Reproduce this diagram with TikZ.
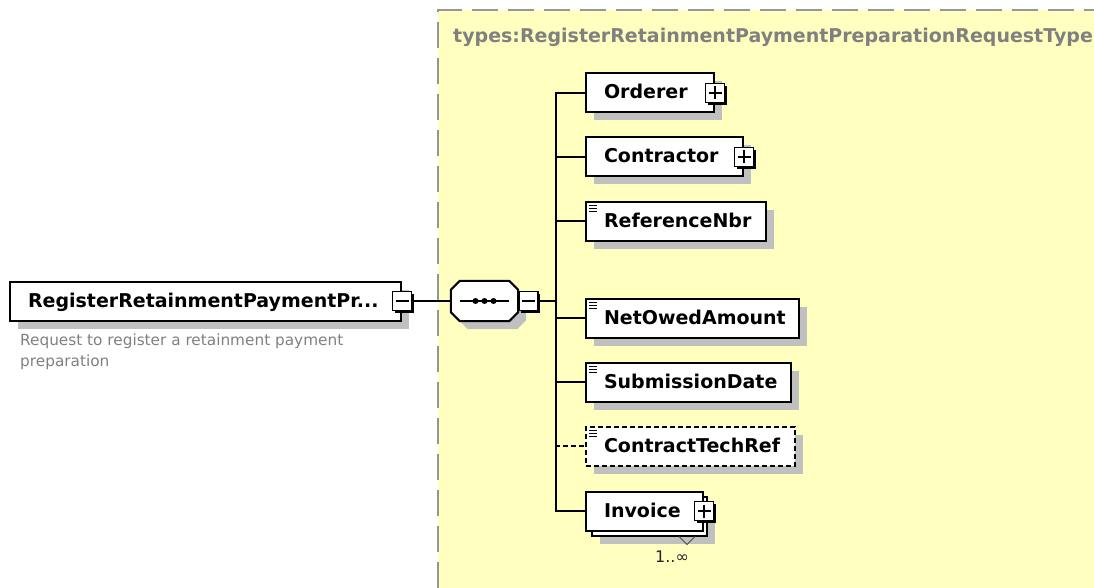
\documentclass[tikz,border=0pt]{standalone}
\usepackage{fontspec}
\setsansfont{DejaVu Sans}
\usepackage{tikz}
\usetikzlibrary{positioning,shadows}

\definecolor{typebg}{RGB}{255,255,192}
\definecolor{typeline}{RGB}{150,150,150}
\definecolor{typetext}{RGB}{128,128,128}
\definecolor{shade}{RGB}{192,192,192}

\begin{document}
\begin{tikzpicture}[x=1pt,y=-1pt]
\tikzstyle{flat}=[rectangle, draw=black, line width=2pt, fill=white, anchor=west, inner xsep=0pt, inner ysep=0pt, minimum height=39pt, text height=14pt, text depth=2pt, align=left, font=\sffamily\bfseries\fontsize{19}{22}\selectfont, execute at begin node={\hyphenpenalty=10000\hspace*{18pt}}]
\tikzstyle{elem}=[flat, drop shadow={shadow xshift=8pt, shadow yshift=-8pt, fill=shade, opacity=1}]
\tikzstyle{simple}=[elem, path picture={\foreach \k in {4,7,10} \draw[solid, line width=1.1pt] ([xshift=3pt, yshift=-\k pt]path picture bounding box.north west) -- ++(8pt,0pt);}]
\tikzstyle{optional}=[dash pattern=on 5pt off 3pt]
\tikzstyle{expander}=[rectangle, draw=black, line width=1.5pt, fill=white, minimum size=19pt, inner sep=0pt, drop shadow={shadow xshift=2.5pt, shadow yshift=-2.5pt, fill=black, opacity=1}]
\tikzstyle{plusbox}=[expander, path picture={\draw[line width=1.5pt] ([xshift=3pt]path picture bounding box.west) -- ([xshift=-3pt]path picture bounding box.east); \draw[line width=1.5pt] ([yshift=-3pt]path picture bounding box.north) -- ([yshift=3pt]path picture bounding box.south);}]
\tikzstyle{minusbox}=[expander, path picture={\draw[line width=1.5pt] ([xshift=3pt]path picture bounding box.west) -- ([xshift=-3pt]path picture bounding box.east);}]
\tikzstyle{connect}=[draw, line width=2pt]
\tikzstyle{elbow}=[to path={|- (\tikztotarget)}]

\useasboundingbox (0,0) rectangle (1094,588);

% complex type area
\fill[typebg] (438,10) rectangle (1094,588);
\draw[typeline, line width=1.6pt, dash pattern=on 26pt off 10pt] (438,588) -- (438,10) -- (1094,10);
\node[font=\sffamily\bfseries\fontsize{19}{22}\selectfont, text=typetext, anchor=base west, inner sep=0pt] (type_name) at (453,43) {types:RegisterRetainmentPaymentPreparationRequestType};

% root element
\node[elem, text width=391pt] (root) at (9,301) {RegisterRetainmentPaymentPr...};
\node[minusbox] (root_exp) at (root.east) {};
\node[font=\sffamily\fontsize{15.3}{21}\selectfont, text=typetext, anchor=north west, align=left, inner sep=0pt] (root_doc) at (20,334) {Request to register a retainment payment\\preparation};

% sequence
\node[rectangle, minimum width=67pt, minimum height=40pt, inner sep=0pt] (seq) at (484.5,301) {};
\draw[line width=2pt, fill=white, drop shadow={shadow xshift=8pt, shadow yshift=-8pt, fill=shade, opacity=1}]
  ([xshift=9pt]seq.north west) -- ([xshift=-9pt]seq.north east) -- ([yshift=-9pt]seq.north east) -- ([yshift=9pt]seq.south east)
  -- ([xshift=-9pt]seq.south east) -- ([xshift=9pt]seq.south west) -- ([yshift=9pt]seq.south west) -- ([yshift=-9pt]seq.north west) -- cycle;
\draw[line width=1.5pt] ([xshift=9pt]seq.west) -- ([xshift=-9pt]seq.east);
\foreach \d in {-9,0,9}
  \fill ([xshift=\d pt]seq.center) circle (3pt);
\node[minusbox, anchor=west] (seq_exp) at (seq.east) {};
\coordinate (bus) at (556,301);

% children
\node[elem, text width=128pt] (orderer) at (585,93) {Orderer};
\node[plusbox] (orderer_exp) at (orderer.east) {};
\node[elem, text width=157pt] (contractor) at (585,157) {Contractor};
\node[plusbox] (contractor_exp) at (contractor.east) {};
\node[simple, text width=180pt] (reference_nbr) at (585,221) {ReferenceNbr};
\node[simple, text width=213pt] (net_owed) at (585,318) {NetOwedAmount};
\node[simple, text width=205pt] (submission_date) at (585,382) {SubmissionDate};
\node[simple, optional, text width=209pt] (contract_tech) at (585,446) {ContractTechRef};
\node[elem, text width=115pt] (invoice_back) at (591,516) {};
\node[flat, text width=117pt] (invoice) at (585,511) {Invoice};
\node[plusbox] (invoice_exp) at (invoice.east) {};
\draw[line width=1pt, black!70] ([xshift=-29pt]invoice_back.south east) -- ++(8pt,-8pt) -- ++(8pt,8pt);
\node[font=\sffamily\fontsize{16}{18}\selectfont, text=black!85, inner sep=0pt] (invoice_card) at (672,557) {1..∞};

\path [connect]
  (root_exp) edge [] (seq)
  (seq_exp) edge [] (bus)
  (bus) edge [elbow] (orderer.west)
  (bus) edge [elbow] (contractor.west)
  (bus) edge [elbow] (reference_nbr.west)
  (bus) edge [elbow] (net_owed.west)
  (bus) edge [elbow] (submission_date.west)
  (bus) edge [elbow, optional] (contract_tech.west)
  (bus) edge [elbow] (invoice.west);

\end{tikzpicture}
\end{document}
